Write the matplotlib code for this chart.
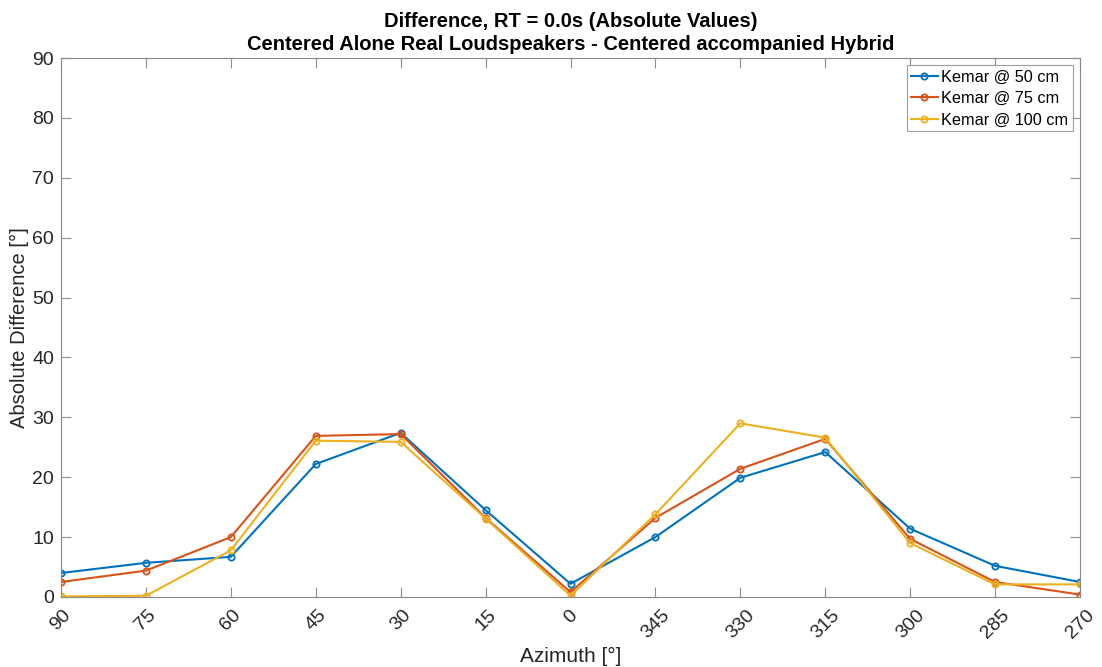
import matplotlib
matplotlib.use("Agg")
import matplotlib.pyplot as plt

azimuth_labels = ["90", "75", "60", "45", "30", "15", "0", "345", "330", "315", "300", "285", "270"]
kemar_50 = [4.0, 5.7, 6.7, 22.2, 27.4, 14.5, 2.2, 10.0, 19.9, 24.2, 11.4, 5.2, 2.5]
kemar_75 = [2.5, 4.4, 10.0, 26.9, 27.2, 13.2, 0.8, 13.2, 21.4, 26.4, 9.7, 2.5, 0.4]
kemar_100 = [0.1, 0.2, 7.8, 26.1, 25.9, 13.1, 0.2, 13.8, 29.0, 26.6, 9.0, 2.1, 2.1]
series_names = ["Kemar @ 50 cm", "Kemar @ 75 cm", "Kemar @ 100 cm"]
colors = ["#0072BD", "#D95319", "#EDB120"]

plt.rcParams["font.family"] = ["Liberation Sans", "DejaVu Sans"]

fig = plt.figure(figsize=(11.02, 6.67), dpi=100)
ax = fig.add_axes([0.0554, 0.105, 0.9246, 0.808])

x = list(range(len(azimuth_labels)))
for vals, name, c in zip([kemar_50, kemar_75, kemar_100], series_names, colors):
    ax.plot(x, vals, color=c, lw=1.5, marker="o", markersize=4.5,
            markerfacecolor="none", markeredgewidth=1.3, label=name)

ax.set_xlim(0, len(azimuth_labels) - 1)
ax.set_ylim(0, 90)
ax.set_xticks(x)
ax.set_xticklabels(azimuth_labels, rotation=45, fontsize=14, color="#262626")
ax.set_yticks(range(0, 91, 10))
ax.tick_params(axis="y", labelsize=14, labelcolor="#262626", pad=5)
ax.tick_params(axis="x", pad=7)
ax.tick_params(direction="in", length=7, width=0.8, color="#909090",
               top=True, right=True)
for s in ax.spines.values():
    s.set_color("#888888")
    s.set_linewidth(0.8)

ax.set_xlabel("Azimuth [°]", fontsize=15, color="#262626", labelpad=4)
ax.set_ylabel("Absolute Difference [°]", fontsize=14.5, color="#262626", labelpad=2)
ax.set_title("Difference, RT = 0.0s (Absolute Values)\nCentered Alone Real Loudspeakers - Centered accompanied Hybrid",
             fontsize=14.5, fontweight="bold", color="black", pad=6, linespacing=1.25)

leg = ax.legend(loc="upper right", fontsize=11.7, frameon=True, fancybox=False,
                borderpad=0.25, handlelength=1.7, handletextpad=0.2,
                labelspacing=0.4, borderaxespad=0.45)
leg.get_frame().set_edgecolor("#888888")
leg.get_frame().set_linewidth(0.8)

fig.savefig("out.png", dpi=100, facecolor="white")
